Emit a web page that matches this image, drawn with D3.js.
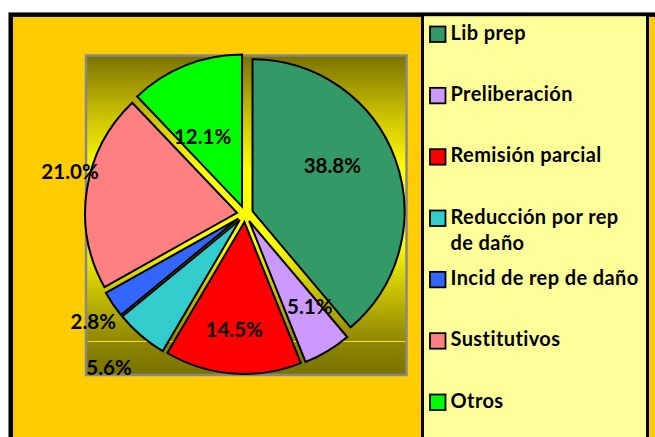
<!DOCTYPE html>
<html>
<head>
<meta charset="utf-8">
<script src="https://cdn.jsdelivr.net/npm/d3@7/dist/d3.min.js"></script>
<style>
  html, body { margin: 0; padding: 0; background: #ffffff; }
  svg { display: block; }
  text { font-family: Lato, "Open Sans", sans-serif; font-weight: 700; }
</style>
</head>
<body>
<svg id="chart" width="655" height="437"></svg>
<script>
// ---- data ----
const categories = ["Lib prep", "Preliberación", "Remisión parcial", "Reducción por rep de daño", "Incid de rep de daño", "Sustitutivos", "Otros"];
const values = [38.8, 5.1, 14.5, 5.6, 2.8, 21.0, 12.1];
const colors = ["#339966", "#CC99FF", "#FF0000", "#33CCCC", "#3366FF", "#FF8080", "#00FF00"];

// ---- layout ----
const W = 655, H = 437;
const svg = d3.select("#chart");
const defs = svg.append("defs");

// page background
svg.append("rect").attr("x", 0).attr("y", 0).attr("width", W).attr("height", H).attr("fill", "#ffffff");
// outer grey hairline + black frame with orange fill
svg.append("rect").attr("x", 8).attr("y", 12).attr("width", 700).attr("height", 500)
  .attr("fill", "#999999");
svg.append("rect").attr("x", 8.8).attr("y", 12.7).attr("width", 700).attr("height", 500)
  .attr("fill", "#FFCC00").attr("stroke", "#000000").attr("stroke-width", 4.2)
  .attr("transform", "translate(2.1,2.1)");

// plot area gradient
const plot = {x: 86, y: 55.5, w: 320.5, h: 319.5};
const grad = defs.append("linearGradient").attr("id", "bg")
  .attr("x1", 0).attr("y1", 0).attr("x2", 0).attr("y2", 1);
[[0, "#7A7200"], [0.2, "#CFC600"], [0.36, "#FFFF00"], [0.58, "#FFFF00"], [0.78, "#B8B000"], [0.9, "#8C8500"], [1, "#7A7300"]]
  .forEach(s => grad.append("stop").attr("offset", s[0]).attr("stop-color", s[1]));
svg.append("rect").attr("x", plot.x).attr("y", plot.y).attr("width", plot.w).attr("height", plot.h)
  .attr("fill", "url(#bg)").attr("stroke", "#888888").attr("stroke-width", 2.5);
// floor line
svg.append("line").attr("x1", plot.x + 1.5).attr("x2", plot.x + plot.w - 1.5)
  .attr("y1", 341.5).attr("y2", 341.5).attr("stroke", "#FFE000").attr("stroke-width", 1);

// pie
const cx = 245, cy = 214, R = 152, explode = 8;
const pie = d3.pie().sort(null).value(d => d)(values);
const arc = d3.arc().innerRadius(0).outerRadius(R);
const g = svg.append("g").attr("transform", `translate(${cx},${cy})`);
const mid = d => (d.startAngle + d.endAngle) / 2;

g.selectAll("path.slice").data(pie).join("path")
  .attr("class", "slice")
  .attr("d", arc)
  .attr("fill", (d, i) => colors[i])
  .attr("stroke", "#000000")
  .attr("stroke-width", 2)
  .attr("stroke-linejoin", "miter")
  .attr("transform", d => `translate(${explode * Math.sin(mid(d))},${-explode * Math.cos(mid(d))})`);

// data labels (radius / angular nudge per slice)
const labelR = [100, 113, 116, 205, 186, 180, 88];
const labelNudge = [-9, -4, 1, 1, -1, 5, -7]; // degrees
const fmt = d3.format(".1f");
g.selectAll("text.lbl").data(pie).join("text")
  .attr("class", "lbl")
  .attr("x", (d, i) => labelR[i] * Math.sin(mid(d) + labelNudge[i] * Math.PI / 180))
  .attr("y", (d, i) => -labelR[i] * Math.cos(mid(d) + labelNudge[i] * Math.PI / 180))
  .attr("dy", "0.36em")
  .attr("text-anchor", "middle")
  .attr("font-size", 20.5)
  .attr("fill", "#000000")
  .text(d => fmt(d.data) + "%");

// legend box
svg.append("rect").attr("x", 422.5).attr("y", 14.7).attr("width", 225).attr("height", 440)
  .attr("fill", "#FFFF99").attr("stroke", "#000000").attr("stroke-width", 3);

const leg = svg.append("g");
const rowY = d3.scaleLinear().domain([0, categories.length - 1]).range([26, 394]);
const items = leg.selectAll("g.item").data(categories).join("g")
  .attr("class", "item")
  .attr("transform", (d, i) => `translate(430,${rowY(i)})`);
items.append("rect").attr("x", 0).attr("y", 0.5).attr("width", 15.5).attr("height", 15.5)
  .attr("fill", (d, i) => colors[i]).attr("stroke", "#000000").attr("stroke-width", 1.8);
items.append("text").attr("x", 20.5).attr("y", 13.8).attr("font-size", 20)
  .attr("letter-spacing", 0.4)
  .attr("fill", "#000000")
  .each(function(d) {
    const t = d3.select(this);
    const words = d.split(" ");
    const maxW = 190;
    let line = [];
    let tspan = t.append("tspan").attr("x", 20.5).attr("dy", 0);
    words.forEach(w => {
      line.push(w);
      tspan.text(line.join(" "));
      if (tspan.node().getComputedTextLength() > maxW && line.length > 1) {
        line.pop();
        tspan.text(line.join(" "));
        line = [w];
        tspan = t.append("tspan").attr("x", 20.5).attr("dy", 26).text(w);
      }
    });
  });
</script>
</body>
</html>
